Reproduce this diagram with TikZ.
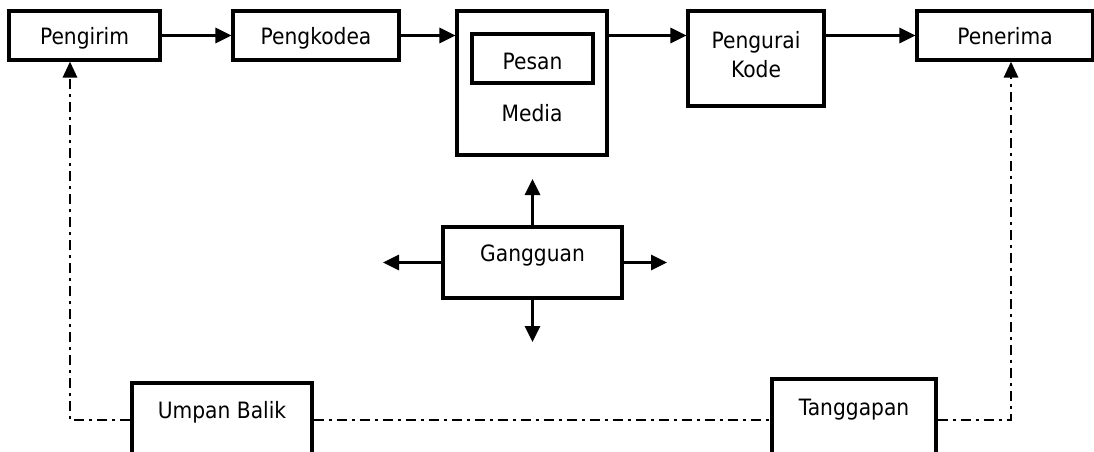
\documentclass[tikz,border=0pt]{standalone}
\usepackage{fontspec}
\setmainfont{DejaVu Sans}[FakeStretch=0.9]
\usetikzlibrary{arrows.meta}
\begin{document}
\begin{tikzpicture}[x=1pt,y=-1pt,
  box/.style={draw, line width=3.1pt, inner sep=0pt, font=\fontsize{22.5}{29}\selectfont},
  flow/.style={line width=3.1pt, -{Triangle[length=16pt,width=15pt]}},
  fb/.style={line width=2.9pt, dash pattern=on 10pt off 5pt on 3pt off 5pt},
  fbarrow/.style={fb, -{Triangle[length=16pt,width=14pt]}}]
\useasboundingbox (0,0) rectangle (1094,452);
\clip (0,0) rectangle (1094,452);
% top row
\node[box, minimum width=151pt, minimum height=49pt, text height=19pt, text depth=0pt] (pengirim) at (84.5,35.5) {Pengirim};
\node[box, minimum width=166pt, minimum height=49pt, text height=19pt, text depth=0pt] (pengkodea) at (316,35.5) {Pengkodea};
\node[box, minimum width=150pt, minimum height=144pt, text height=76pt, text depth=0pt] (media) at (532,83) {Media};
\node[box, minimum width=121pt, minimum height=49pt, text height=23pt, text depth=0pt] (pesan) at (532.5,58.5) {Pesan};
\node[box, align=center, minimum width=136pt, minimum height=95pt] (pengurai) at (756,58.5) {Pengurai\\Kode\rule[-9pt]{0pt}{9pt}};
\node[box, minimum width=176pt, minimum height=49pt, text height=19pt, text depth=0pt] (penerima) at (1005,35.5) {Penerima};
% middle
\node[box, minimum width=179pt, minimum height=71pt, text height=0pt, text depth=3pt] (gangguan) at (532.5,262.5) {Gangguan};
% bottom
\node[box, minimum width=180pt, minimum height=87pt, text height=0pt, text depth=17pt] (umpan) at (222,426.5) {Umpan Balik};
\node[box, minimum width=164pt, minimum height=91pt, text height=0pt, text depth=19pt] (tanggapan) at (854,424.5) {Tanggapan};
% main flow
\draw[flow] (pengirim) -- (pengkodea);
\draw[flow] (pengkodea.east) -- (pengkodea.east -| media.west);
\draw[flow] (media.east |- pengkodea.east) -- (pengurai.west |- pengkodea.east);
\draw[flow] (pengurai.east |- pengkodea.east) -- (penerima.west);
% noise arrows
\coordinate (gup) at (532.5,179);
\coordinate (gdn) at (532.5,342);
\coordinate (glt) at (383,262.5);
\coordinate (grt) at (667,262.5);
\draw[flow] (gangguan) -- (gup);
\draw[flow] (gangguan) -- (gdn);
\draw[flow] (gangguan) -- (glt);
\draw[flow] (gangguan) -- (grt);
% feedback
\coordinate (fl) at (70,420);
\coordinate (fr) at (1011,420);
\draw[fbarrow] (umpan.west |- fl) -- (fl) -- (pengirim.south -| fl);
\draw[fb] (umpan.east |- fl) -- (tanggapan.west |- fl);
\draw[fbarrow] (tanggapan.east |- fl) -- (fr) -- (penerima.south -| fr);
\end{tikzpicture}
\end{document}
